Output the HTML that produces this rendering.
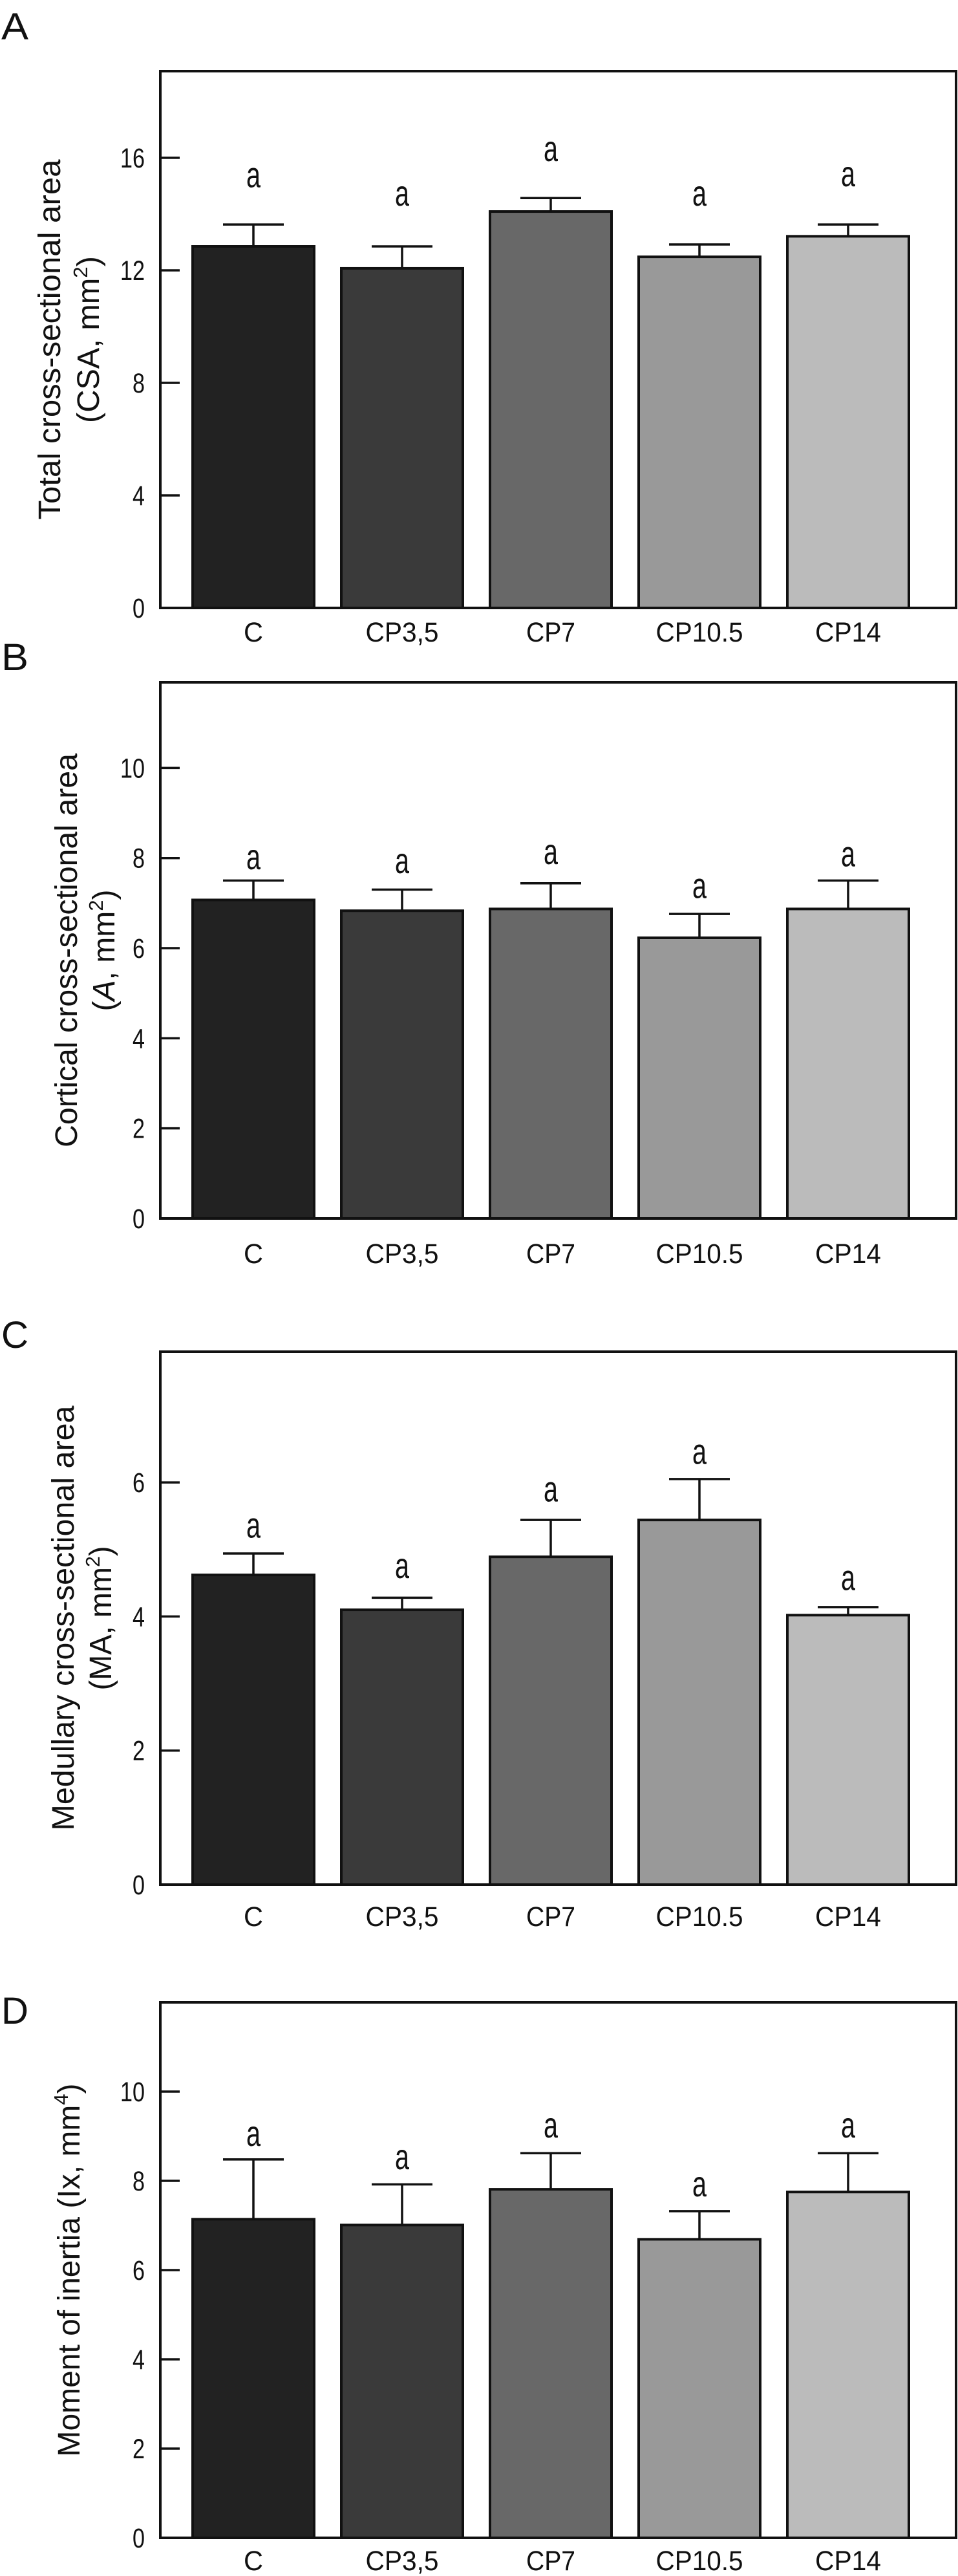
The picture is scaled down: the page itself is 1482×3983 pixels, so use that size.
<!DOCTYPE html>
<html><head><meta charset="utf-8"><style>
html,body{margin:0;padding:0;background:#fff;}
svg{display:block;}
text{font-family:"Liberation Sans Narrow","Liberation Sans",sans-serif;fill:#111;}
.title{font-family:"Liberation Sans",sans-serif;font-size:48px;}
</style></head><body>
<svg id="fig" width="1482" height="3983" viewBox="0 0 1482 3983" xmlns="http://www.w3.org/2000/svg"></svg>
<script>
const categories = ["C","CP3,5","CP7","CP10.5","CP14"];
const meansA = [12.85,12.07,14.09,12.48,13.21];
const errA = [0.78,0.78,0.48,0.44,0.42];
const letterA = [15.3,14.64,16.23,14.64,15.33];
const ticksA = [0,4,8,12,16];
const meansB = [7.07,6.83,6.87,6.23,6.87];
const errB = [0.43,0.47,0.57,0.53,0.63];
const letterB = [7.97,7.88,8.08,7.33,8.03];
const ticksB = [0,2,4,6,8,10];
const meansC = [4.62,4.10,4.89,5.44,4.02];
const errC = [0.32,0.18,0.55,0.61,0.12];
const letterC = [5.32,4.72,5.86,6.42,4.54];
const ticksC = [0,2,4,6];
const meansD = [7.14,7.01,7.81,6.69,7.75];
const errD = [1.34,0.91,0.81,0.63,0.87];
const letterD = [9.0,8.48,9.19,7.87,9.19];
const ticksD = [0,2,4,6,8,10];
const sigLetters = ["a","a","a","a","a"];
const colors = ["#222222","#3a3a3a","#686868","#999999","#bbbbbb"];

const NS="http://www.w3.org/2000/svg";
const svg=document.getElementById('fig');
function mk(tag,attrs,parent){const e=document.createElementNS(NS,tag);for(const k in attrs)e.setAttribute(k,attrs[k]);(parent||svg).appendChild(e);return e;}

const panels=[
 {id:"a",label:"A",labelY:40,top:110,bottom:940,ymax:19.08,means:meansA,err:errA,letters:letterA,ticks:ticksA,xlabY:977,
  t1:"Total cross-sectional area",t1x:93,t1len:557,t2:["(CSA, mm","2",")"],t2x:153,t2len:258,italic:false},
 {id:"b",label:"B",labelY:1015,top:1055,bottom:1884,ymax:11.9,means:meansB,err:errB,letters:letterB,ticks:ticksB,xlabY:1938,
  t1:"Cortical cross-sectional area",t1x:119,t1len:609,t2:["(A, mm","2",")"],t2x:177,t2len:188,italic:true},
 {id:"c",label:"C",labelY:2063,top:2090,bottom:2914,ymax:7.95,means:meansC,err:errC,letters:letterC,ticks:ticksC,xlabY:2963,
  t1:"Medullary cross-sectional area",t1x:114,t1len:657,t2:["(MA, mm","2",")"],t2x:172,t2len:223,italic:false},
 {id:"d",label:"D",labelY:3108,top:3096,bottom:3924,ymax:12.0,means:meansD,err:errD,letters:letterD,ticks:ticksD,xlabY:3959,
  t1:"Moment of inertia (Ix, mm",t1sup:"4",t1x:123,t1len:577,t2:null}
];
const left=248,right=1479,bandStart=392,bandStep=230,barW=188,capHalf=47;
const xLabW={"C":30,"CP3,5":113,"CP7":76,"CP10.5":135,"CP14":102};

panels.forEach(p=>{
 const g=mk('g',{});
 
 
 const y=v=>p.bottom-(v/p.ymax)*(p.bottom-p.top);
 const x=i=>bandStart+i*bandStep;
 const pl=mk('text',{x:2,y:p.labelY+21,'font-size':58,textLength:42,lengthAdjust:'spacingAndGlyphs'},g);
 pl.textContent=p.label;
 
 
 p.means.forEach((m,i)=>{
  const r=mk('rect',{x:x(i)-barW/2,y:y(m),width:barW,height:p.bottom-y(m),fill:colors[i],stroke:'#111','stroke-width':4},g);
  
  
  const cap=m+p.err[i];
  const eb=mk('path',{d:`M${x(i)} ${y(m)} V${y(cap)} M${x(i)-capHalf} ${y(cap)} H${x(i)+capHalf}`,stroke:'#111','stroke-width':3.5,fill:'none'},g);
  
  
  const lt=mk('text',{x:x(i),y:y(p.letters[i])+15,'font-size':56,'text-anchor':'middle',textLength:22,lengthAdjust:'spacingAndGlyphs'},g);
  lt.textContent=sigLetters[i];
  
  
  const xl=mk('text',{x:x(i),y:p.xlabY+15,'font-size':43,'text-anchor':'middle',textLength:xLabW[categories[i]],lengthAdjust:'spacingAndGlyphs'},g);
  xl.textContent=categories[i];
  
  
 });
 const fr=mk('rect',{x:left,y:p.top,width:right-left,height:p.bottom-p.top,fill:'none',stroke:'#111','stroke-width':4},g);
 
 
 p.ticks.forEach(t=>{
  const tk=mk('line',{x1:left,x2:left+30,y1:y(t),y2:y(t),stroke:'#111','stroke-width':3.5},g);
  
  
  const s=String(t);
  const tl=mk('text',{x:224,y:y(t)+15,'font-size':43,'text-anchor':'end',textLength:s.length*19,lengthAdjust:'spacingAndGlyphs'},g);
  tl.textContent=s;
  
  
 });
 const cy=(p.top+p.bottom)/2;
 const t1=mk('text',{class:'title',x:0,y:0,'text-anchor':'middle',transform:`translate(${p.t1x},${cy}) rotate(-90)`,textLength:p.t1len,lengthAdjust:'spacingAndGlyphs'},g);
 const m1=mk('tspan',{},t1);m1.textContent=p.t1;
 if(p.t1sup){const s=mk('tspan',{dy:-18,'font-size':31},t1);s.textContent=p.t1sup;const s2=mk('tspan',{dy:18},t1);s2.textContent=")";}
 
 
 if(p.t2){
  const t2=mk('text',{class:'title',x:0,y:0,'text-anchor':'middle',transform:`translate(${p.t2x},${cy}) rotate(-90)`,textLength:p.t2len,lengthAdjust:'spacingAndGlyphs'},g);
  if(p.italic){
   const a=mk('tspan',{},t2);a.textContent="(";
   const b=mk('tspan',{'font-style':'italic'},t2);b.textContent="A";
   const c=mk('tspan',{},t2);c.textContent=", mm";
  } else {const a=mk('tspan',{},t2);a.textContent=p.t2[0];}
  const s=mk('tspan',{dy:-18,'font-size':31},t2);s.textContent=p.t2[1];
  const e=mk('tspan',{dy:18},t2);e.textContent=p.t2[2];
  
  
 }
});
</script>
</body></html>
